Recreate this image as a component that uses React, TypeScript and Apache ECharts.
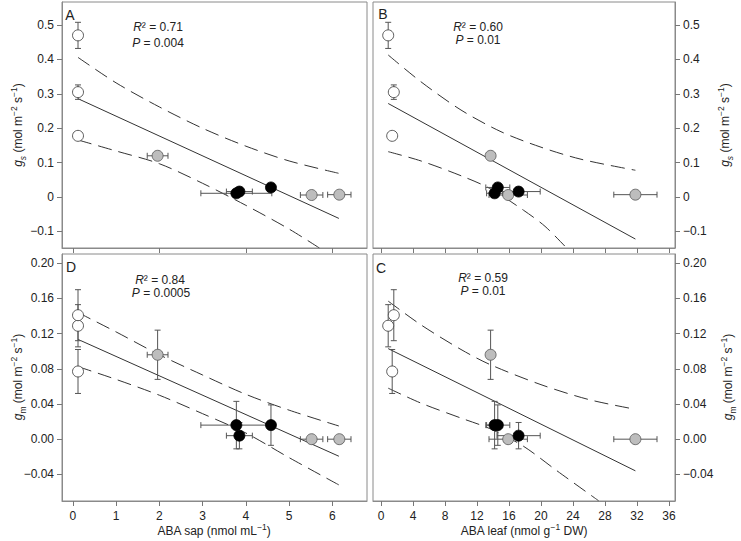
import React, { useEffect, useRef } from "react";
import * as echarts from "echarts";

// ---------- data ----------
// white (control) plants
const sapWhite = [0.12, 0.12, 0.12];
const leafWhite = [0.9, 1.6, 1.4];
const gsWhite = [0.47, 0.305, 0.178];
const gmWhite = [0.129, 0.141, 0.077];
const sapErrWhite = [0, 0, 0];
const leafErrWhite = [0, 0, 0];
const gsErrWhite = [0.038, 0.021, 0];
const gmErrWhite = [0.024, 0.029, 0.025];

// grey plants
const sapGray = [1.96, 5.52, 6.16];
const leafGray = [13.7, 15.9, 31.8];
const gsGray = [0.12, 0.006, 0.007];
const gmGray = [0.096, 0.0, 0.0];
const sapErrGray = [0.24, 0.26, 0.27];
const leafErrGray = [0.5, 2.4, 2.7];
const gsErrGray = [0, 0, 0];
const gmErrGray = [0.028, 0, 0];

// black plants
const sapBlack = [3.78, 3.85, 4.58];
const leafBlack = [14.2, 17.2, 14.6];
const gsBlack = [0.011, 0.016, 0.028];
const gmBlack = [0.016, 0.004, 0.016];
const sapErrBlack = [0.82, 0.3, 0];
const leafErrBlack = [1.0, 2.7, 1.5];
const gsErrBlack = [0, 0, 0];
const gmErrBlack = [0.027, 0.015, 0.023];

// regression lines and confidence bands
const fitSapX = [0.12, 6.15];
const fitSapGs = [0.286, -0.062];
const fitSapGm = [0.1135, -0.0194];
const bandSapX = [0.12, 1, 2, 3, 4, 5, 6.15];
const bandSapGsUpper = [0.406, 0.332, 0.262, 0.2, 0.148, 0.105, 0.069];
const bandSapGsLowerX = [0.12, 1, 2, 3, 4, 5, 5.7];
const bandSapGsLower = [0.166, 0.134, 0.097, 0.04, -0.024, -0.093, -0.148];
const bandSapGmUpper = [0.144, 0.122, 0.096, 0.073, 0.051, 0.033, 0.015];
const bandSapGmLower = [0.0825, 0.068, 0.05, 0.029, 0.007, -0.021, -0.052];

const fitLeafX = [0.9, 31.8];
const fitLeafGs = [0.272, -0.122];
const fitLeafGm = [0.103, -0.036];
const bandLeafX = [0.9, 5, 10, 15, 20, 25, 31.8];
const bandLeafGsUpper = [0.413, 0.335, 0.253, 0.19, 0.145, 0.11, 0.078];
const bandLeafGsLowerX = [0.9, 5, 10, 13.6, 17.8, 20.5, 23.2];
const bandLeafGsLower = [0.132, 0.105, 0.062, 0.025, -0.038, -0.085, -0.148];
const bandLeafGmUpperX = [0.9, 5, 10, 13.6, 20, 26, 31.8];
const bandLeafGmUpper = [0.157, 0.13, 0.102, 0.085, 0.062, 0.045, 0.034];
const bandLeafGmLowerX = [0.9, 5, 10, 13.6, 17.8, 22, 27.2];
const bandLeafGmLower = [0.058, 0.041, 0.024, 0.012, -0.008, -0.036, -0.07];

// ticks
const sapTicksTop = [0, 2, 4, 6];
const sapTicks = [0, 1, 2, 3, 4, 5, 6];
const leafTicks = [0, 4, 8, 12, 16, 20, 24, 28, 32, 36];
const gsTicks = [-0.1, 0, 0.1, 0.2, 0.3, 0.4, 0.5];
const gmTicks = [-0.04, 0, 0.04, 0.08, 0.12, 0.16, 0.2];

const labels = {
  A: ["0.71", "0.004"],
  B: ["0.60", "0.01"],
  D: ["0.84", "0.0005"],
  C: ["0.59", "0.01"],
};

// ---------- styling ----------
const FONT = "'Liberation Sans', Arial, Helvetica, sans-serif";
const TXT = "#222";
const FRAME = "#8a8a8a";
const ERR = "#555";

const zip = (xs: number[], ys: number[]) => xs.map((x, i) => [x, ys[i]]);
const minus = (s: string) => s.replace("-", "\u2212");

function errSeries(xs: number[], ys: number[], xe: number[], ye: number[], gi: number) {
  return {
    type: "custom",
    xAxisIndex: gi,
    yAxisIndex: gi,
    z: 3,
    silent: true,
    clip: false,
    data: xs.map((x, i) => [x, ys[i], xe[i], ye[i]]),
    encode: { x: 0, y: 1 },
    renderItem: (params: any, api: any) => {
      const x = api.value(0);
      const y = api.value(1);
      const dx = api.value(2);
      const dy = api.value(3);
      const st = { stroke: ERR, lineWidth: 1, fill: "none" };
      const cap = 3;
      const ch: any[] = [];
      if (dy > 0) {
        const p1 = api.coord([x, y + dy]);
        const p2 = api.coord([x, y - dy]);
        ch.push({ type: "line", shape: { x1: p1[0], y1: p1[1], x2: p2[0], y2: p2[1] }, style: st });
        ch.push({ type: "line", shape: { x1: p1[0] - cap, y1: p1[1], x2: p1[0] + cap, y2: p1[1] }, style: st });
        ch.push({ type: "line", shape: { x1: p2[0] - cap, y1: p2[1], x2: p2[0] + cap, y2: p2[1] }, style: st });
      }
      if (dx > 0) {
        const p1 = api.coord([x - dx, y]);
        const p2 = api.coord([x + dx, y]);
        ch.push({ type: "line", shape: { x1: p1[0], y1: p1[1], x2: p2[0], y2: p2[1] }, style: st });
        ch.push({ type: "line", shape: { x1: p1[0], y1: p1[1] - cap, x2: p1[0], y2: p1[1] + cap }, style: st });
        ch.push({ type: "line", shape: { x1: p2[0], y1: p2[1] - cap, x2: p2[0], y2: p2[1] + cap }, style: st });
      }
      return { type: "group", children: ch };
    },
  };
}

function pointSeries(xs: number[], ys: number[], gi: number, fill: string, border: string) {
  return {
    type: "scatter",
    xAxisIndex: gi,
    yAxisIndex: gi,
    z: 5,
    symbol: "circle",
    symbolSize: 11,
    silent: true,
    data: zip(xs, ys),
    itemStyle: { color: fill, borderColor: border, borderWidth: 0.8, opacity: 1 },
  };
}

function lineSeries(xs: number[], ys: number[], gi: number, dashed: boolean) {
  return {
    type: "line",
    xAxisIndex: gi,
    yAxisIndex: gi,
    z: 2,
    silent: true,
    showSymbol: false,
    symbol: "none",
    smooth: dashed ? 0.3 : false,
    clip: true,
    data: zip(xs, ys),
    lineStyle: { color: "#333", width: 1, type: dashed ? [14, 7] : "solid" },
  };
}

function panelSeries(
  gi: number,
  x: { w: number[]; g: number[]; b: number[]; ew: number[]; eg: number[]; eb: number[] },
  y: { w: number[]; g: number[]; b: number[]; ew: number[]; eg: number[]; eb: number[] },
  fit: { x: number[]; y: number[] },
  up: { x: number[]; y: number[] },
  lo: { x: number[]; y: number[] }
) {
  return [
    lineSeries(fit.x, fit.y, gi, false),
    lineSeries(up.x, up.y, gi, true),
    lineSeries(lo.x, lo.y, gi, true),
    errSeries(x.w, y.w, x.ew, y.ew, gi),
    errSeries(x.g, y.g, x.eg, y.eg, gi),
    errSeries(x.b, y.b, x.eb, y.eb, gi),
    pointSeries(x.w, y.w, gi, "#ffffff", "#333"),
    pointSeries(x.g, y.g, gi, "#bdbdbd", "#555"),
    pointSeries(x.b, y.b, gi, "#000000", "#000"),
  ];
}

const richBase = {
  n: { fontSize: 12, fontFamily: FONT, color: TXT, lineHeight: 18, verticalAlign: "middle" },
  i: { fontSize: 12, fontFamily: FONT, color: TXT, fontStyle: "italic", lineHeight: 18, verticalAlign: "middle" },
  sub: { fontSize: 8.5, fontFamily: FONT, color: TXT, lineHeight: 11, verticalAlign: "bottom" },
  subi: { fontSize: 8.5, fontFamily: FONT, color: TXT, fontStyle: "italic", lineHeight: 11, verticalAlign: "bottom" },
  sup: { fontSize: 8.5, fontFamily: FONT, color: TXT, lineHeight: 9, verticalAlign: "top" },
};

function rtext(x: number, y: number, text: string, rotate = false) {
  return {
    type: "text",
    x,
    y,
    rotation: rotate ? Math.PI / 2 : 0,
    silent: true,
    style: {
      text,
      rich: richBase,
      fontFamily: FONT,
      fontSize: 12,
      fill: TXT,
      align: "center",
      verticalAlign: "middle",
    },
  };
}

function ptext(x: number, y: number, text: string, size = 14) {
  return {
    type: "text",
    x,
    y,
    silent: true,
    style: { text, fontFamily: FONT, fontSize: size, fill: TXT, align: "center", verticalAlign: "middle" },
  };
}

const gsName = "{i|g}{subi|s}{n| (mol m}{sup|\u22122}{n| s}{sup|\u22121}{n|)}";
const gmName = "{i|g}{sub|m}{n| (mol m}{sup|\u22122}{n| s}{sup|\u22121}{n|)}";

export default function App() {
  const ref = useRef<HTMLDivElement>(null);

  useEffect(() => {
    if (!ref.current) return;
    const chart = echarts.init(ref.current, undefined, { renderer: "svg" });

    const grids = [
      { left: 62, top: 2, width: 305, height: 246 }, // A
      { left: 373, top: 2, width: 302, height: 246 }, // B
      { left: 62, top: 254, width: 305, height: 247 }, // D
      { left: 373, top: 254, width: 302, height: 247 }, // C
    ].map((g) => ({ ...g, show: true, borderColor: FRAME, borderWidth: 1, backgroundColor: "#fff" }));

    const tickStyle = { show: true, length: 5, inside: false, lineStyle: { color: "#777", width: 1 } };
    const labStyle = { color: TXT, fontFamily: FONT, fontSize: 12 };

    const xAx = (gi: number, min: number, max: number, ticks: number[], showLabels: boolean) => ({
      type: "value",
      gridIndex: gi,
      min,
      max,
      position: "bottom",
      axisLine: { show: true, onZero: false, lineStyle: { color: FRAME } },
      splitLine: { show: false },
      axisTick: { ...tickStyle, customValues: ticks },
      axisLabel: {
        show: showLabels,
        ...labStyle,
        margin: 9,
        customValues: ticks,
        formatter: (v: number) => String(Math.round(v)),
      },
    });

    const yAx = (gi: number, min: number, max: number, ticks: number[], pos: string, dec: number) => ({
      type: "value",
      gridIndex: gi,
      min,
      max,
      position: pos,
      axisLine: { show: true, onZero: false, lineStyle: { color: FRAME } },
      splitLine: { show: false },
      axisTick: { ...tickStyle, customValues: ticks },
      axisLabel: {
        show: true,
        ...labStyle,
        margin: 8,
        customValues: ticks,
        formatter: (v: number) => {
          if (dec === 1 && Math.abs(v) < 1e-9) return "0";
          return minus(v.toFixed(dec));
        },
      },
    });

    const option: any = {
      animation: false,
      backgroundColor: "#fff",
      grid: grids,
      xAxis: [
        xAx(0, -0.25, 6.8, sapTicksTop, false),
        xAx(1, -1, 36.75, leafTicks, false),
        xAx(2, -0.25, 6.8, sapTicks, true),
        xAx(3, -1, 36.75, leafTicks, true),
      ],
      yAxis: [
        yAx(0, -0.148, 0.567, gsTicks, "left", 1),
        yAx(1, -0.148, 0.567, gsTicks, "right", 1),
        yAx(2, -0.0703, 0.2106, gmTicks, "left", 2),
        yAx(3, -0.0703, 0.2106, gmTicks, "right", 2),
      ],
      series: [
        ...panelSeries(
          0,
          { w: sapWhite, g: sapGray, b: sapBlack, ew: sapErrWhite, eg: sapErrGray, eb: sapErrBlack },
          { w: gsWhite, g: gsGray, b: gsBlack, ew: gsErrWhite, eg: gsErrGray, eb: gsErrBlack },
          { x: fitSapX, y: fitSapGs },
          { x: bandSapX, y: bandSapGsUpper },
          { x: bandSapGsLowerX, y: bandSapGsLower }
        ),
        ...panelSeries(
          1,
          { w: leafWhite, g: leafGray, b: leafBlack, ew: leafErrWhite, eg: leafErrGray, eb: leafErrBlack },
          { w: gsWhite, g: gsGray, b: gsBlack, ew: gsErrWhite, eg: gsErrGray, eb: gsErrBlack },
          { x: fitLeafX, y: fitLeafGs },
          { x: bandLeafX, y: bandLeafGsUpper },
          { x: bandLeafGsLowerX, y: bandLeafGsLower }
        ),
        ...panelSeries(
          2,
          { w: sapWhite, g: sapGray, b: sapBlack, ew: sapErrWhite, eg: sapErrGray, eb: sapErrBlack },
          { w: gmWhite, g: gmGray, b: gmBlack, ew: gmErrWhite, eg: gmErrGray, eb: gmErrBlack },
          { x: fitSapX, y: fitSapGm },
          { x: bandSapX, y: bandSapGmUpper },
          { x: bandSapX, y: bandSapGmLower }
        ),
        ...panelSeries(
          3,
          { w: leafWhite, g: leafGray, b: leafBlack, ew: leafErrWhite, eg: leafErrGray, eb: leafErrBlack },
          { w: gmWhite, g: gmGray, b: gmBlack, ew: gmErrWhite, eg: gmErrGray, eb: gmErrBlack },
          { x: fitLeafX, y: fitLeafGm },
          { x: bandLeafGmUpperX, y: bandLeafGmUpper },
          { x: bandLeafGmLowerX, y: bandLeafGmLower }
        ),
      ],
      graphic: [
        ptext(70, 14.5, "A"),
        ptext(383, 14, "B"),
        ptext(71, 266.5, "D"),
        ptext(381, 267.5, "C"),
        rtext(158, 26.5, `{i|R}{n|\u00b2 = ${labels.A[0]}}`),
        rtext(158, 42.5, `{i|P}{n| = ${labels.A[1]}}`),
        rtext(478, 26.5, `{i|R}{n|\u00b2 = ${labels.B[0]}}`),
        rtext(478, 39.5, `{i|P}{n| = ${labels.B[1]}}`),
        rtext(160, 279.5, `{i|R}{n|\u00b2 = ${labels.D[0]}}`),
        rtext(161, 293, `{i|P}{n| = ${labels.D[1]}}`),
        rtext(483, 278, `{i|R}{n|\u00b2 = ${labels.C[0]}}`),
        rtext(483, 290.5, `{i|P}{n| = ${labels.C[1]}}`),
        rtext(18, 125, gsName, true),
        rtext(18, 377, gmName, true),
        rtext(725, 125, gsName, true),
        rtext(728, 377, gmName, true),
        rtext(214, 531, "{n|ABA sap (nmol mL}{sup|\u22121}{n|)}"),
        rtext(524, 531, "{n|ABA leaf (nmol g}{sup|\u22121}{n| DW)}"),
      ],
    };

    chart.setOption(option);
    return () => chart.dispose();
  }, []);

  return (
    <div
      ref={ref}
      style={{ position: "fixed", left: 0, top: 0, width: 741, height: 541, background: "#fff" }}
    />
  );
}
